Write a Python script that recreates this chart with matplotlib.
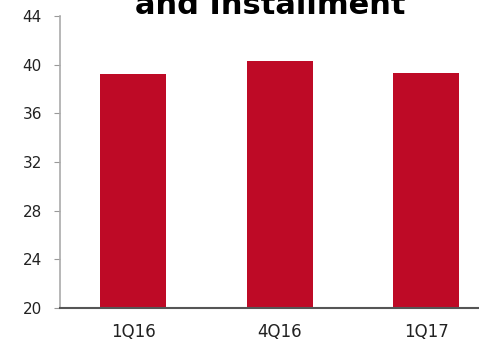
import matplotlib.pyplot as plt

categories = ['1Q16', '4Q16', '1Q17']
values = [39.2, 40.3, 39.3]
title = 'and Installment'

plt.rcParams['font.family'] = ['DejaVu Sans']

fig = plt.figure(figsize=(4.79, 3.41), dpi=100)
ax = fig.add_axes([60 / 479, 33 / 341, 419 / 479, 292 / 341])

ax.bar(range(len(categories)), values, width=0.45, color='#BE0A26', bottom=0)
ax.set_ylim(20, 44)
ax.set_xlim(-0.5, 2.36)
ax.set_yticks(range(20, 45, 4))
ax.set_xticks(range(len(categories)))
ax.set_xticklabels(categories, fontsize=12)
ax.tick_params(axis='y', labelsize=11, color='#999999', length=4, pad=9, labelcolor='#222222')
ax.tick_params(axis='x', length=0, pad=11, labelcolor='#222222')

for side in ['top', 'right']:
    ax.spines[side].set_visible(False)
ax.spines['left'].set_color('#aaaaaa')
ax.spines['left'].set_linewidth(1.2)
ax.spines['bottom'].set_color('#555555')
ax.spines['bottom'].set_linewidth(1.5)

fig.text(0.565, 0.96, title, ha='center', va='baseline', fontsize=22,
         fontweight='bold', color='black')

fig.savefig('out.png', dpi=100)
